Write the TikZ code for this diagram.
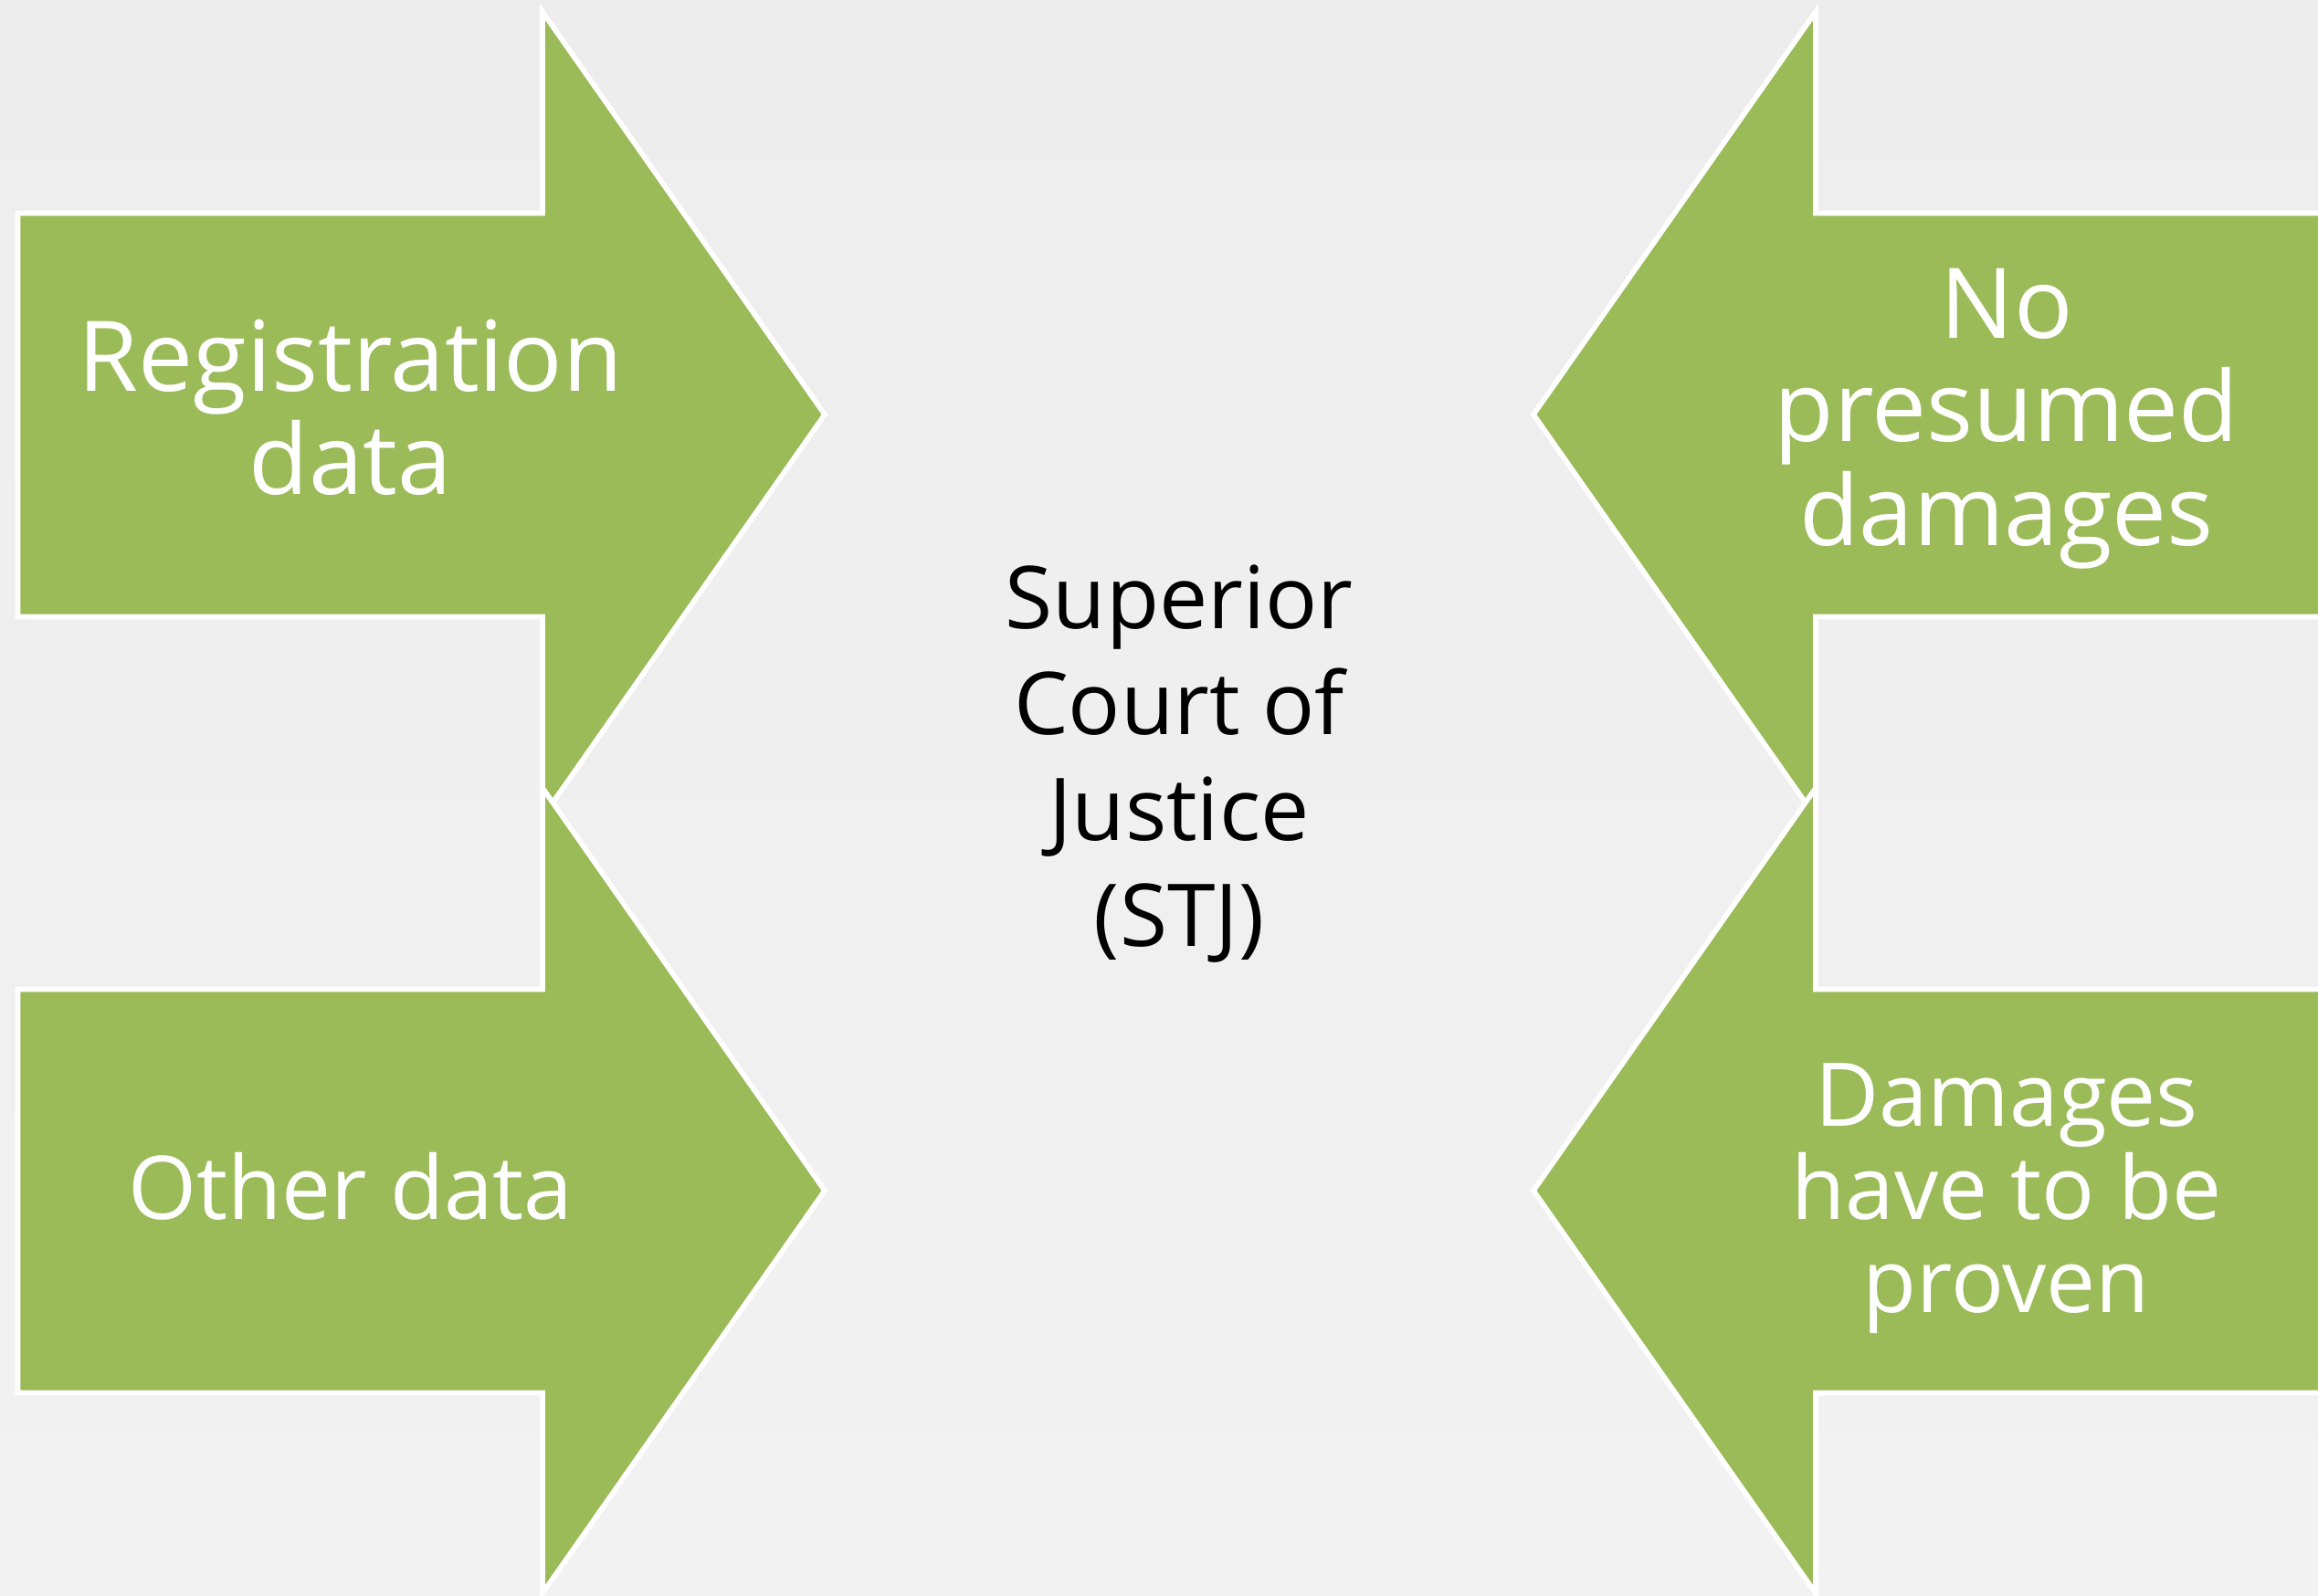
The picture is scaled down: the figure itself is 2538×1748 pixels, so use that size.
\documentclass[tikz,border=0pt]{standalone}
\usepackage{fontspec}
\setmainfont{Open Sans}
\definecolor{arrowgreen}{HTML}{9BBB59}
\definecolor{bgtop}{HTML}{EDEDED}
\definecolor{bgbottom}{HTML}{F2F2F2}

\begin{document}
\begin{tikzpicture}[x=0.01cm, y=-0.01cm,
  blockarrow/.style={fill=arrowgreen, draw=white, line width=1.6pt, line join=miter},
  armtext/.style={text=white, font=\fontsize{30.4}{32.4}\selectfont, align=flush center, text width=7cm, inner sep=0pt, anchor=base},
  smallarmtext/.style={armtext, font=\fontsize{27.4}{29.1}\selectfont},
  courttext/.style={text=black, font=\fontsize{27}{33}\selectfont, align=flush center, text width=7cm, inner sep=0pt, anchor=base}]
    \clip (0,0) rectangle (2538,1748);
    \shade[top color=bgtop, bottom color=bgbottom] (0,0) rectangle (2538,1748);
    % arrows pointing right
    \foreach \dy in {0,850}
      \draw[blockarrow, shift={(0,\dy)}] (19.5,233.5) -- (594,233.5) -- (594,13) -- (903,454)
        -- (594,895) -- (594,675.5) -- (19.5,675.5) -- cycle;
    % arrows pointing left
    \foreach \dy in {0,850}
      \draw[blockarrow, shift={(0,\dy)}] (2562.5,233.5) -- (1988,233.5) -- (1988,13) -- (1679,454)
        -- (1988,895) -- (1988,675.5) -- (2562.5,675.5) -- cycle;
    \node[armtext] (regdata) at (384,428) {Registration\\data};
    \node[smallarmtext] (otherdata) at (384,1335) {Other data};
    \node[armtext] (nopresumed) at (2197,370) {No\\presumed\\damages};
    \node[smallarmtext] (proven) at (2197,1233) {Damages\\have to be\\proven};
    \node[courttext] (stj) at (1291,688) {Superior\\Court of\\Justice\\(STJ)};
  \end{tikzpicture}
\end{document}
